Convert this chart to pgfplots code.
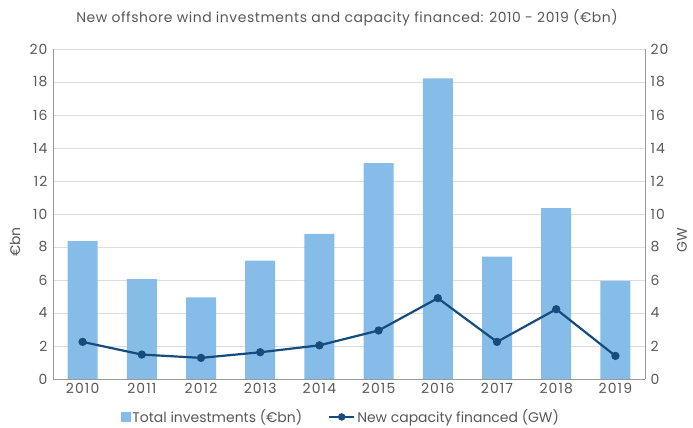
\documentclass[border=0pt]{standalone}
\usepackage{pgfplots}
\pgfplotsset{compat=1.18}
\usepackage{fontspec}
\setmainfont{Poppins}
\newfontfamily\tickfont{Poppins}[LetterSpace=8]
\newfontfamily\titlefont{Poppins}[LetterSpace=4]
\definecolor{barblue}{HTML}{85BDE8}
\definecolor{linenavy}{HTML}{164B7D}
\definecolor{txt}{HTML}{575757}
\definecolor{gridc}{HTML}{DCDCDC}
\definecolor{axc}{HTML}{9A9A9A}
\begin{document}
\begin{tikzpicture}
\useasboundingbox (0,0) rectangle (693bp,428bp);
\pgfplotsset{
  common/.style={
    at={(53bp,49bp)}, anchor=south west, scale only axis,
    width=592bp, height=330bp,
    xmin=-0.5, xmax=9.5, ymin=0, ymax=20,
    ytick={0,2,...,20},
    major tick length=0pt,
    tick style={draw=none},
    axis line style={axc, line width=0.8pt},
    ticklabel style={font=\tickfont\fontsize{14}{14}\selectfont, text=txt},
    /pgf/number format/assume math mode=true,
  }
}
\begin{axis}[common,
  axis y line*=left, axis x line*=bottom,
  xtick={0,...,9},
  xticklabels={2010,2011,2012,2013,2014,2015,2016,2017,2018,2019},
  ymajorgrids, grid style={gridc, line width=0.7pt},
  yticklabel style={xshift=-2bp},
  xticklabel style={yshift=-1bp},
]
\addplot[ybar, bar width=30bp, fill=barblue, draw=none] coordinates {
(0,8.35) (1,6.05) (2,4.95) (3,7.17) (4,8.8) (5,13.08) (6,18.22) (7,7.41) (8,10.35) (9,5.95)};
\end{axis}
\begin{axis}[common,
  axis y line*=right, axis x line=none,
  yticklabel style={xshift=2bp},
  legend style={at={(0.486,-0.115)}, anchor=center, draw=none, fill=none,
    font=\fontsize{14}{14}\selectfont, text=txt,
    /tikz/every even column/.append style={column sep=24bp}},
  legend columns=2,
]
\addlegendimage{legend image code/.code={\fill[barblue] (-1bp,-4.5bp) rectangle (8.5bp,5bp);}}
\addlegendentry{Total investments (€bn)}
\addplot[linenavy, line width=2.2pt, mark=*, mark size=3pt,
  legend image code/.code={\draw[linenavy, line width=2.2pt] (0bp,0bp) -- (25bp,0bp); \fill[linenavy] (12.5bp,0bp) circle (2.6bp);}] coordinates {
(0,2.25) (1,1.48) (2,1.28) (3,1.62) (4,2.04) (5,2.94) (6,4.9) (7,2.25) (8,4.23) (9,1.4)};
\addlegendentry{New capacity financed (GW)}
\end{axis}
\node[text=txt, font=\titlefont\fontsize{14}{14}\selectfont] at (347bp,410bp) {New offshore wind investments and capacity financed: 2010 - 2019 (€bn)};
\node[text=txt, font=\fontsize{14}{14}\selectfont, rotate=90] at (15bp,186bp) {€bn};
\node[text=txt, font=\fontsize{14}{14}\selectfont, rotate=90] at (682bp,188bp) {GW};
\end{tikzpicture}
\end{document}
